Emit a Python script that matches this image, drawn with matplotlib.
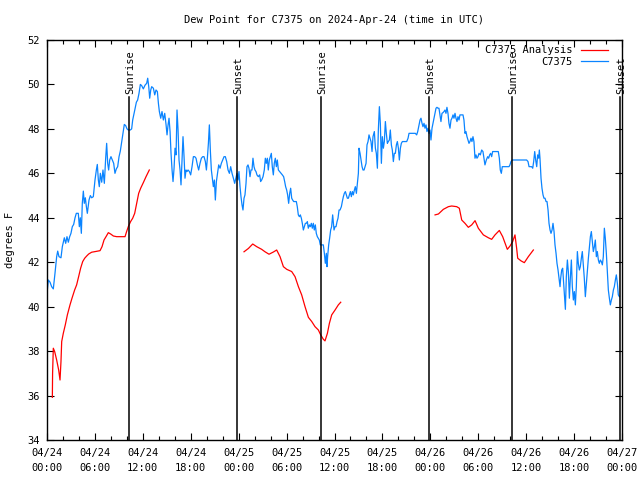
import matplotlib
matplotlib.use("Agg")
import matplotlib.pyplot as plt

# ---- data (hours since 2024-04-24 00:00 UTC, dew point in F) ----
obs_hours = [
    0.0, 0.17, 0.38, 0.58, 0.79, 1.0, 1.21, 1.34, 1.5, 1.75, 1.92, 2.17, 2.34, 2.5, 2.67, 2.84,
    3.0, 3.17, 3.34, 3.51, 3.67, 3.92, 4.05, 4.17, 4.3, 4.42, 4.55, 4.67, 4.8, 4.93, 5.05, 5.26,
    5.43, 5.59, 5.8, 6.01, 6.18, 6.3, 6.43, 6.55, 6.68, 6.85, 7.01, 7.18, 7.35, 7.47, 7.6, 7.72,
    7.85, 8.01, 8.18, 8.35, 8.51, 8.68, 8.85, 9.02, 9.18, 9.35, 9.52, 9.68, 9.85, 10.02, 10.18,
    10.43, 10.6, 10.73, 10.85, 11.02, 11.19, 11.35, 11.52, 11.69, 11.85, 12.06,
    12.28, 12.48, 12.61, 12.74, 12.86, 12.99, 13.11, 13.32, 13.49, 13.65, 13.82, 13.95, 14.07,
    14.24, 14.4, 14.57, 14.74, 14.91, 15.03, 15.16, 15.28, 15.41, 15.53, 15.66, 15.78, 15.91,
    16.03, 16.16, 16.28, 16.41, 16.53, 16.66, 16.78, 16.91, 17.03, 17.16, 17.28, 17.41, 17.53,
    17.66, 17.83, 17.99, 18.16, 18.33, 18.5, 18.66, 18.83, 18.99, 19.16, 19.33, 19.5, 19.66,
    19.83, 19.96, 20.08, 20.21, 20.33, 20.46, 20.58, 20.71, 20.83, 20.96, 21.08, 21.21, 21.33,
    21.5, 21.67, 21.83, 22.0, 22.17, 22.33, 22.5, 22.67, 22.84, 23.0, 23.17, 23.34, 23.5,
    23.79, 23.92, 24.04, 24.17, 24.29, 24.42, 24.54, 24.67, 24.79, 24.92, 25.04, 25.17, 25.29,
    25.42, 25.54, 25.67, 25.79, 25.92, 26.04, 26.17, 26.29, 26.46, 26.63, 26.75, 26.88, 27.05,
    27.21, 27.34, 27.46, 27.59, 27.71, 27.84, 27.96, 28.09, 28.21, 28.34, 28.46, 28.59, 28.72,
    28.84, 28.97, 29.13, 29.3, 29.47, 29.63, 29.76, 29.88, 30.01, 30.13, 30.26, 30.39, 30.51,
    30.64, 30.76, 30.89, 31.05, 31.22, 31.34, 31.47, 31.6, 31.72, 31.85, 31.97, 32.1, 32.22,
    32.35, 32.47, 32.6, 32.72, 32.85, 32.97, 33.1, 33.22, 33.35, 33.47, 33.6, 33.72, 33.85,
    33.97, 34.1, 34.22, 34.35, 34.47, 34.6, 34.73, 34.85, 34.98, 35.06, 35.14, 35.27, 35.39,
    35.52, 35.64, 35.77,
    35.94, 36.07, 36.19, 36.32, 36.44, 36.57, 36.69, 36.86, 36.98, 37.11, 37.23, 37.36, 37.49,
    37.61, 37.74, 37.86, 37.99, 38.11, 38.24, 38.36, 38.49, 38.61, 38.74, 38.86, 38.99, 39.07,
    39.2, 39.32, 39.45, 39.57, 39.7, 39.82, 39.95, 40.07, 40.2, 40.32, 40.45, 40.57, 40.7,
    40.82, 40.99, 41.12, 41.24, 41.37, 41.49, 41.62, 41.74, 41.87, 41.99, 42.12, 42.24, 42.37,
    42.49, 42.62, 42.74, 42.87, 42.99, 43.12, 43.24, 43.37, 43.49, 43.62, 43.75, 43.87, 44.0,
    44.12, 44.25, 44.37, 44.5, 44.62, 44.83, 45.04, 45.21, 45.33, 45.54, 45.87, 46.12, 46.29,
    46.42, 46.54, 46.71, 46.83, 46.96, 47.08, 47.21, 47.33,
    47.46, 47.58, 47.71, 47.83, 47.96, 48.08, 48.21, 48.33, 48.46, 48.58, 48.71, 48.83, 48.96,
    49.08, 49.21, 49.33, 49.46, 49.58, 49.71, 49.83, 49.96, 50.08, 50.21, 50.33, 50.46, 50.59,
    50.71, 50.84, 50.96, 51.09, 51.21, 51.34, 51.46, 51.59, 51.71, 51.84, 51.96, 52.09, 52.21,
    52.34, 52.46, 52.59, 52.71, 52.84, 52.96, 53.09, 53.21, 53.34, 53.46, 53.59, 53.72, 53.84,
    53.97, 54.09, 54.26, 54.43, 54.59, 54.72, 54.84, 55.01, 55.18, 55.3, 55.43, 55.55, 55.68,
    55.8, 55.97, 56.14, 56.3, 56.51, 56.64, 56.76, 56.89, 57.01, 57.18, 57.35, 57.51, 57.68,
    57.85, 57.97, 58.1, 58.26,
    59.23, 60.06, 60.23, 60.36, 60.52, 60.69, 60.82, 60.94, 61.07, 61.19, 61.32, 61.44, 61.57,
    61.65, 61.73, 61.86, 61.98, 62.11, 62.23, 62.36, 62.49, 62.61, 62.74, 62.86, 62.99, 63.11,
    63.24, 63.36, 63.49, 63.61, 63.74, 63.86, 63.99, 64.11, 64.24, 64.32, 64.45, 64.57, 64.7,
    64.82, 64.91, 65.03, 65.16, 65.28, 65.41, 65.53, 65.66, 65.78, 65.91, 66.03, 66.16, 66.28,
    66.41, 66.53, 66.66, 66.78, 66.91, 67.03, 67.16, 67.28, 67.41, 67.54, 67.66, 67.79, 67.91,
    68.04, 68.16, 68.29, 68.41, 68.54, 68.66, 68.79, 68.91, 69.04, 69.16, 69.29, 69.41, 69.54,
    69.66, 69.79, 69.91, 70.04, 70.17, 70.29, 70.42, 70.54, 70.67, 70.79, 70.92, 71.04, 71.17,
    71.29, 71.42, 71.54, 71.67,
]
obs_dewpt = [
    40.6, 41.2, 41.1, 40.9, 40.8, 41.5, 42.25, 42.5, 42.25, 42.2, 42.7, 43.1, 42.85, 43.15, 42.9, 43.15,
    43.3, 43.6, 43.7, 44.0, 44.2, 44.2, 43.6, 44.0, 43.3, 44.65, 45.2, 44.65, 44.9, 44.5, 44.2, 44.8,
    45.0, 44.9, 44.95, 45.7, 46.15, 46.4, 45.7, 45.4, 46.0, 45.6, 46.15, 45.55, 46.7, 47.35, 46.45, 46.15,
    46.6, 46.75, 46.6, 46.45, 46.0, 46.2, 46.3, 46.75, 47.0, 47.4, 47.8, 48.2, 48.15, 48.0, 47.95,
    47.95, 48.0, 48.4, 48.6, 48.9, 49.2, 49.3, 49.6, 50.0, 49.95, 49.8,
    49.97, 50.05, 50.28, 49.9, 49.38, 49.75, 49.9, 49.83, 49.53, 49.75, 49.68, 49.15, 48.78,
    48.48, 48.78, 48.4, 48.7, 48.18, 47.73, 48.18, 48.48, 47.88, 46.9, 46.15, 45.63, 46.23,
    47.13, 46.83, 48.85, 47.95, 46.6, 46.15, 45.48, 46.6, 47.65, 46.75, 45.78, 46.15, 46.08,
    46.15, 46.08, 45.93, 46.3, 46.75, 46.75, 46.68, 46.38, 46.15, 46.45, 46.68, 46.75, 46.75,
    46.53, 46.15, 46.68, 47.35, 48.18, 46.98, 46.15, 45.78, 45.4, 45.7, 44.8, 45.63, 45.93,
    46.38, 46.23, 46.45, 46.6, 46.75, 46.75, 46.53, 46.15, 46.0, 46.3, 46.0, 45.78, 45.55,
    46.0, 45.7, 46.08, 45.4, 44.95, 44.58, 44.35, 44.88, 45.03, 45.55, 46.3, 46.38, 46.23,
    45.85, 46.15, 46.15, 46.68, 46.3, 46.15, 46.08, 45.93, 45.85, 45.93, 45.63, 45.7, 45.85,
    46.15, 46.68, 46.45, 46.68, 46.15, 46.6, 46.75, 46.9, 46.3, 45.93, 46.45, 46.68, 46.3,
    46.6, 46.15, 46.08, 46.0, 45.93, 45.85, 45.63, 45.4, 45.25, 45.03, 44.65, 45.1, 45.33,
    44.88, 44.8, 44.73, 44.73, 44.73, 44.5, 44.13, 44.05, 44.13, 43.98, 43.75, 43.45, 43.6,
    43.75, 43.75, 43.83, 43.53, 43.68, 43.6, 43.75, 43.53, 43.75, 43.45, 43.68, 43.3, 43.15,
    43.08, 43.0, 42.78, 42.78, 42.78, 42.78, 42.4, 41.95, 42.4, 41.8, 42.25, 42.78, 43.08,
    43.45, 43.6, 44.13,
    43.45, 43.6, 43.6, 43.83, 43.98, 44.35, 44.35, 44.5, 44.73, 44.95, 45.1, 45.18, 45.03,
    44.88, 44.88, 45.03, 45.18, 44.95, 45.18, 45.03, 45.25, 45.4, 45.1, 45.55, 46.0, 47.13,
    46.9, 46.6, 46.3, 46.15, 46.15, 46.3, 46.45, 47.28, 47.43, 47.73, 47.58, 47.43, 46.98,
    47.65, 47.88, 47.13, 46.9, 46.23, 47.95, 49.0, 48.25, 46.45, 47.65, 47.13, 47.43, 48.33,
    47.8, 47.35, 47.43, 47.5, 47.95, 47.28, 47.05, 46.53, 46.9, 46.9, 47.28, 47.43, 47.13,
    46.6, 47.13, 47.35, 47.43, 47.43, 47.43, 47.43, 47.58, 47.8, 47.8, 47.8, 47.8, 47.73,
    47.88, 48.1, 48.4, 48.48, 48.25, 48.1, 48.25, 48.03,
    48.18, 47.88, 48.03, 47.8, 47.95, 47.5, 48.03, 48.25, 48.48, 48.7, 48.93, 48.97, 48.93,
    48.93, 48.63, 48.33, 48.7, 48.73, 48.78, 48.85, 48.7, 48.97, 48.7, 48.25, 48.03, 48.4,
    48.48, 48.63, 48.48, 48.7, 48.48, 48.33, 48.55, 48.4, 48.63, 48.63, 48.63, 48.63, 48.4,
    47.8, 47.88, 47.65, 47.5, 47.35, 47.43, 47.58, 47.43, 47.65, 47.43, 46.68, 46.83, 46.68,
    46.75, 46.9, 46.83, 47.05, 46.98, 46.68, 46.38, 46.6, 46.75, 46.68, 46.83, 46.9, 46.75,
    46.98, 46.98, 46.98, 46.98, 46.98, 46.68, 46.15, 46.0, 46.3, 46.3, 46.3, 46.3, 46.3,
    46.3, 46.38, 46.53, 46.6,
    46.6, 46.6, 46.53, 46.3, 46.3, 46.3, 46.23, 46.53, 46.98, 46.6, 46.3, 46.83, 46.68,
    47.05, 46.68, 45.78, 45.33, 45.03, 44.88, 44.88, 44.73, 44.73, 44.35, 43.75, 43.45, 43.3,
    43.45, 43.75, 43.38, 42.78, 42.4, 41.95, 41.65, 41.28, 40.9, 41.28, 41.65, 41.73, 41.05,
    40.38, 39.88, 41.35, 42.1, 41.58, 40.38, 41.28, 42.1, 40.9, 40.3, 40.68, 40.08, 40.9,
    42.48, 41.95, 41.65, 41.8, 42.18, 42.48, 41.88, 41.28, 40.45, 41.05, 41.58, 42.18, 42.63,
    43.15, 43.38, 42.93, 42.48, 42.7, 43.0, 42.25, 42.48, 42.1, 41.95, 42.1, 42.03, 41.88,
    42.25, 43.53, 43.08, 42.4, 41.58, 40.75, 40.38, 40.08, 40.3, 40.45, 40.75, 40.9, 41.2,
    41.43, 41.05, 40.53, 40.45,
]

ana1_hours = [0.67, 0.70, 0.79, 0.96, 1.21, 1.46, 1.63, 1.75, 1.84, 2.04, 2.29, 2.55, 2.88, 3.13,
              3.46, 3.71, 3.96, 4.21, 4.47, 4.72, 4.97, 5.22, 5.59, 6.05, 6.64, 6.89, 7.14, 7.39,
              7.68, 7.97, 8.31, 8.72, 9.14, 9.77, 9.97, 10.18, 10.47, 10.73, 10.98, 11.23, 11.48,
              11.73, 12.06, 12.4, 12.81]
ana1_dewpt = [35.92, 37.0, 38.13, 37.98, 37.6, 37.15, 36.7, 37.53, 38.43, 38.8, 39.18, 39.63, 40.08,
              40.38, 40.75, 40.98, 41.35, 41.73, 42.03, 42.18, 42.28, 42.37, 42.45, 42.48, 42.52,
              42.7, 43.0, 43.15, 43.33, 43.27, 43.18, 43.15, 43.15, 43.15, 43.38, 43.6, 43.83,
              43.98, 44.2, 44.65, 45.1, 45.33, 45.58, 45.85, 46.15]
ana2_hours = [24.67, 25.22, 25.76, 26.26, 26.88, 27.3, 27.8, 28.35, 28.76, 29.18, 29.6, 30.02, 30.64,
              31.06, 31.48, 31.89, 32.31, 32.73, 33.15, 33.56, 33.98, 34.27, 34.61, 34.81, 35.11,
              35.36, 35.65, 36.07, 36.48, 36.78]
ana2_dewpt = [42.47, 42.62, 42.82, 42.7, 42.58, 42.47, 42.36, 42.46, 42.55, 42.25, 41.8, 41.68, 41.58,
              41.35, 40.9, 40.53, 40.0, 39.52, 39.33, 39.1, 38.95, 38.73, 38.53, 38.46, 38.8, 39.25,
              39.63, 39.85, 40.08, 40.2]
ana3_hours = [48.59, 49.01, 49.63, 50.26, 50.67, 51.3, 51.63, 51.93, 52.34, 52.76, 53.18, 53.6, 54.01,
              54.64, 55.27, 55.68, 56.1, 56.64, 57.06, 57.64, 57.98, 58.31, 58.6, 58.81, 58.94,
              59.36, 59.77, 60.27, 60.9]
ana3_dewpt = [44.13, 44.17, 44.38, 44.5, 44.53, 44.5, 44.43, 43.9, 43.75, 43.57, 43.68, 43.87, 43.53,
              43.23, 43.1, 43.03, 43.23, 43.43, 43.15, 42.58, 42.73, 42.93, 43.23, 42.62, 42.18,
              42.06, 41.98, 42.25, 42.55]

event_hours = [10.30, 23.78, 34.29, 47.85, 58.24, 71.8]
event_labels = ["Sunrise", "Sunset", "Sunrise", "Sunset", "Sunrise", "Sunset"]

xtick_hours = [0, 6, 12, 18, 24, 30, 36, 42, 48, 54, 60, 66, 72]
xtick_labels = ["04/24\n00:00", "04/24\n06:00", "04/24\n12:00", "04/24\n18:00",
                "04/25\n00:00", "04/25\n06:00", "04/25\n12:00", "04/25\n18:00",
                "04/26\n00:00", "04/26\n06:00", "04/26\n12:00", "04/26\n18:00",
                "04/27\n00:00"]
yticks = [34, 36, 38, 40, 42, 44, 46, 48, 50, 52]

FONT = "DejaVu Sans Mono"
FS = 7.5
RED = "#ff0000"
BLUE = "#0a84ff"

fig = plt.figure(figsize=(6.4, 4.8), dpi=100)
ax = fig.add_axes([47 / 640, 40 / 480, 575 / 640, 400 / 480])

ax.plot(ana1_hours, ana1_dewpt, color=RED, lw=0.9, label="C7375 Analysis")
ax.plot(ana2_hours, ana2_dewpt, color=RED, lw=0.9)
ax.plot(ana3_hours, ana3_dewpt, color=RED, lw=0.9)
ax.plot(obs_hours, obs_dewpt, color=BLUE, lw=0.9, label="C7375")

for h, lab in zip(event_hours, event_labels):
    ax.plot([h, h], [34, 49.43], color="black", lw=1.1)
    ax.text(h + 0.15, 49.55, lab, rotation=90, ha="center", va="bottom",
            fontsize=FS, family=FONT)

ax.set_xlim(0, 72)
ax.set_ylim(34, 52)
ax.set_xticks(xtick_hours)
ax.set_xticklabels(xtick_labels, fontsize=FS, family=FONT, linespacing=1.55)
ax.set_xticks(range(0, 73, 2), minor=True)
ax.set_yticks(yticks)
ax.set_yticklabels([str(v) for v in yticks], fontsize=FS, family=FONT)
ax.tick_params(axis="x", which="major", direction="in", length=5, top=True,
               width=0.8, pad=6)
ax.tick_params(axis="y", which="major", direction="in", length=5, right=True,
               width=0.8, pad=5)
ax.tick_params(axis="x", which="minor", direction="in", length=3, top=True, width=0.8)
for s in ax.spines.values():
    s.set_linewidth(1.0)

ax.set_ylabel("degrees F", fontsize=FS, family=FONT, labelpad=9)
ax.set_title("Dew Point for C7375 on 2024-Apr-24 (time in UTC)", fontsize=FS, family=FONT, pad=12)

leg = ax.legend(loc="upper right", frameon=False, markerfirst=False,
                prop={"family": FONT, "size": FS}, handlelength=2.6, borderaxespad=0.1,
                labelspacing=0.15, bbox_to_anchor=(0.985, 1.0))
for t in leg.get_texts():
    t.set_ha("right")

fig.savefig("out.png", dpi=100)
